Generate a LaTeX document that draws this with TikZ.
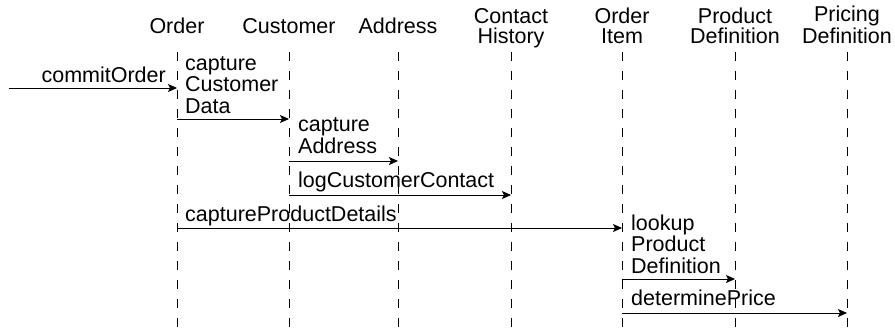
\documentclass[tikz,border=0pt]{standalone}
\usepackage{fontspec}
\setmainfont{Liberation Sans}
\usetikzlibrary{arrows.meta}
\begin{document}
\begin{tikzpicture}[x=1pt,y=-1pt,
  head/.style={font=\fontsize{21.5}{20}\selectfont, align=center, inner sep=0pt, anchor=base},
  lbl/.style={font=\fontsize{21.5}{21.5}\selectfont, align=left, inner sep=0pt, anchor=base west},
  life/.style={line width=0.9pt, dash pattern=on 9pt off 10pt},
  msg/.style={line width=0.8pt, -{Stealth[length=9pt,width=8pt,inset=2pt]}}]
\useasboundingbox (0,0) rectangle (895,327);

% participant headers (base anchor sits on the last line)
\node[head] (order) at (177,33) {Order};
\node[head] (cust)  at (289,33) {Customer};
\node[head] (addr)  at (398,33) {Address};
\node[head] (hist)  at (511,43) {Contact\\History};
\node[head] (item)  at (622,43) {Order\\Item};
\node[head] (prod)  at (735,43) {Product\\Definition};
\node[head] (price) at (847,43) {Pricing\\Definition};

% lifelines
\foreach \p in {order,cust,addr,hist,item,prod,price}{
  \draw[life] (\p |- 0,52) -- (\p |- 0,330);
}

% incoming call
\coordinate (start) at (9,88);
\draw[msg] (start) -- (order |- start);
\node[font=\fontsize{21.5}{21.5}\selectfont, inner sep=0pt, anchor=base east] (m0) at (166,82) {commitOrder};

% messages
\draw[msg] (order |- 0,119) -- (cust |- 0,119);
\node[lbl] (m1) at (185,113) {capture\\Customer\\Data};

\draw[msg] (cust |- 0,161) -- (addr |- 0,161);
\node[lbl] (m2) at (298,153) {capture\\Address};

\draw[msg] (cust |- 0,195) -- (hist |- 0,195);
\node[lbl] (m3) at (298,187) {logCustomerContact};

\draw[msg] (order |- 0,228) -- (item |- 0,228);
\node[lbl] (m4) at (185,221) {captureProductDetails};

\draw[msg] (item |- 0,279) -- (prod |- 0,279);
\node[lbl] (m5) at (631,273) {lookup\\Product\\Definition};

\draw[msg] (item |- 0,313) -- (price |- 0,313);
\node[lbl] (m6) at (631,305) {determinePrice};
\end{tikzpicture}
\end{document}
